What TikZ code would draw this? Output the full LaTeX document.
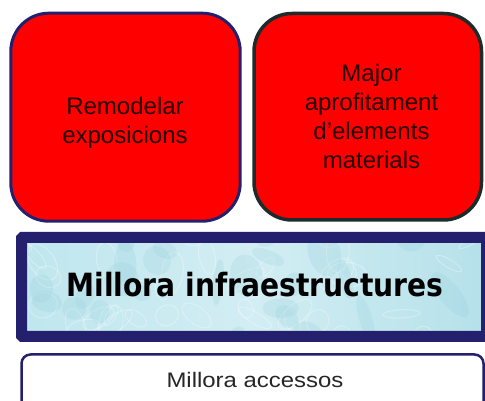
\documentclass[tikz,border=0pt]{standalone}
\usepackage{fontspec}
\setmainfont{Liberation Sans}
\newfontfamily\dvs{DejaVu Sans}
\definecolor{boxred}{HTML}{FF0000}
\definecolor{navy}{HTML}{24206E}
\definecolor{darkedge}{HTML}{1C2B2B}
\definecolor{aqua}{HTML}{BFE6EE}
\definecolor{aquadark}{HTML}{8FCBD8}
\tikzset{
  redbox/.style={fill=boxred, line width=3pt, rounded corners=38pt},
  redtext/.style={font=\fontsize{24}{29}\selectfont, align=center, inner sep=0pt, text=black!85!red},
  bandtext/.style={font=\dvs\bfseries\fontsize{32}{38}\selectfont, inner sep=0pt, xscale=0.88},
  accesstext/.style={font=\fontsize{21}{25}\selectfont, inner sep=0pt, xscale=1.14, text=black!85}
}
\begin{document}
\begin{tikzpicture}[x=1pt,y=1pt]
\useasboundingbox (0,0) rectangle (485,401);
% top red boxes
\draw[redbox, draw=navy] (10.8,387.8) rectangle (240.2,179.8);
\draw[redbox, draw=darkedge, line width=3.5pt] (254,387.5) rectangle (481.5,181);
\node[redtext] (remodel) at (125,278.2) {Remodelar\\exposicions};
\node[redtext] (major) at (371.5,284.2) {Major\\aprofitament\\d’elements\\materials};
% band
\begin{scope}
  \clip (21.5,163.5) rectangle (486.5,64.5);
  \shade[left color=aqua, right color=aqua!80!aquadark, middle color=aqua!70!white] (21.5,163.5) rectangle (486.5,64.5);
  \pgfmathsetseed{11}
  \foreach \i in {1,...,40}{
    \pgfmathsetmacro{\px}{20+rnd*470}
    \pgfmathsetmacro{\py}{60+rnd*110}
    \pgfmathsetmacro{\rx}{6+rnd*18}
    \pgfmathsetmacro{\ry}{4+rnd*10}
    \pgfmathsetmacro{\ang}{rnd*180}
    \draw[white, opacity=0.3, line width=1pt, rotate around={\ang:(\px,\py)}] (\px,\py) ellipse ({\rx} and {\ry});
  }
  \foreach \i in {1,...,25}{
    \pgfmathsetmacro{\px}{20+rnd*470}
    \pgfmathsetmacro{\py}{60+rnd*110}
    \pgfmathsetmacro{\rx}{8+rnd*20}
    \pgfmathsetmacro{\ry}{5+rnd*12}
    \pgfmathsetmacro{\ang}{rnd*180}
    \fill[aquadark, opacity=0.2, rotate around={\ang:(\px,\py)}] (\px,\py) ellipse ({\rx} and {\ry});
  }
\end{scope}
\draw[navy, line width=11pt, rounded corners=1pt] (21.5,163.5) rectangle (486.5,64.5);
\node[bandtext, anchor=base] (infra) at (255,104) {Millora infraestructures};
% bottom box
\draw[navy, line width=2.5pt, fill=white, rounded corners=9pt] (21.5,46.5) rectangle (483.5,-20);
\node[accesstext, anchor=base] (acc) at (255,13) {Millora accessos};
\end{tikzpicture}
\end{document}
